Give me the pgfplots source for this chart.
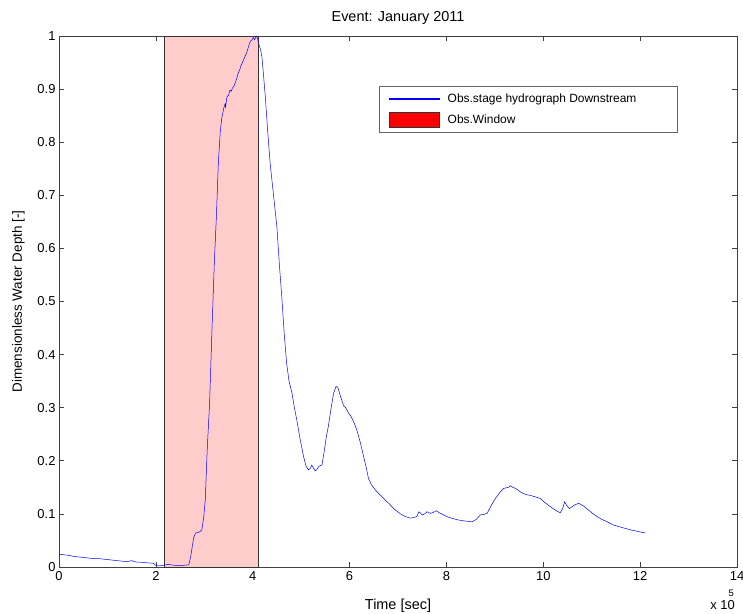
\documentclass[border=0pt]{standalone}
\usepackage{pgfplots}
\pgfplotsset{compat=1.18}
\usepackage{fontspec}
\setmainfont{Liberation Sans}
\begin{document}
\begin{tikzpicture}
\begin{axis}[
  name=ax,
  scale only axis,
  clip=false,
  width=678bp, height=531bp,
  xmin=0, xmax=14, ymin=0, ymax=1,
  xtick={0,2,...,14}, ytick={0,0.1,...,1},
  yticklabels={0,0.1,0.2,0.3,0.4,0.5,0.6,0.7,0.8,0.9,1},
  xticklabels={0,2,4,6,8,10,12,14},
  /pgf/number format/assume math mode=true,
  tick align=inside,
  major tick length=5bp,
  axis line style={black!75, line width=0.6pt},
  tick style={black!75, line width=0.6pt},
  every tick label/.append style={font=\fontsize{13}{15}\selectfont},
  xticklabel style={yshift=-1bp},
  title={Event: January 2011},
  title style={font=\fontsize{14.5}{16}\selectfont, yshift=2bp},
  xlabel={Time [sec]},
  ylabel={Dimensionless Water Depth [-]},
  xlabel style={font=\fontsize{14.5}{16}\selectfont, yshift=-12bp},
  ylabel style={font=\fontsize{13.5}{16}\selectfont, yshift=6bp},
  legend style={at={(rel axis cs:0.472,0.905)}, anchor=north west,
    draw=black!60, font=\fontsize{12}{14}\selectfont,
    row sep=6bp, inner xsep=10bp, inner ysep=5bp, cells={anchor=west}},
  legend cell align=left,
]
\addplot[fill=red!20, draw=black!80, line width=0.6pt, forget plot] coordinates {(2.17,0)(2.17,1)(4.11,1)(4.11,0)} -- cycle;
\addplot[blue, line width=0.5pt, legend image code/.code={\fill[fill=blue] (0bp,-0.2bp) rectangle (50bp,0.2bp);}] coordinates {
(0,0.024)(0.1,0.023)(0.2,0.022)(0.3,0.020)(0.4,0.019)(0.5,0.018)(0.6,0.017)(0.7,0.016)(0.8,0.016)(0.9,0.015)(1.0,0.014)(1.1,0.013)(1.2,0.012)(1.3,0.011)(1.4,0.010)(1.5,0.012)(1.6,0.009)(1.7,0.009)(1.8,0.008)(1.95,0.007)(2.0,0.003)(2.05,0.002)(2.15,0.003)(2.25,0.005)(2.4,0.003)(2.55,0.003)(2.68,0.004)(2.72,0.02)(2.78,0.055)(2.82,0.064)(2.9,0.066)(2.95,0.07)(2.99,0.095)(3.02,0.126)(3.06,0.22)(3.11,0.31)(3.16,0.45)(3.21,0.58)(3.25,0.66)(3.29,0.76)(3.33,0.82)(3.36,0.845)(3.41,0.867)(3.43,0.872)(3.44,0.866)(3.46,0.881)(3.47,0.886)(3.50,0.888)(3.53,0.898)(3.56,0.896)(3.58,0.902)(3.61,0.905)(3.64,0.912)(3.67,0.920)(3.70,0.93)(3.73,0.936)(3.76,0.945)(3.78,0.948)(3.81,0.955)(3.85,0.963)(3.88,0.97)(3.92,0.982)(3.95,0.99)(3.98,0.992)(4.01,0.997)(4.04,0.993)(4.07,1.0)(4.10,0.996)(4.12,0.986)(4.16,0.975)(4.19,0.961)(4.22,0.93)(4.26,0.886)(4.31,0.82)(4.36,0.76)(4.43,0.70)(4.50,0.64)(4.55,0.57)(4.60,0.509)(4.65,0.44)(4.70,0.384)(4.75,0.35)(4.81,0.328)(4.86,0.30)(4.91,0.277)(4.98,0.24)(5.05,0.208)(5.10,0.19)(5.15,0.183)(5.19,0.186)(5.22,0.192)(5.26,0.185)(5.29,0.181)(5.32,0.183)(5.37,0.19)(5.43,0.192)(5.48,0.22)(5.52,0.245)(5.56,0.264)(5.62,0.30)(5.67,0.327)(5.72,0.34)(5.76,0.338)(5.80,0.325)(5.84,0.314)(5.88,0.303)(5.92,0.30)(5.95,0.295)(5.98,0.29)(6.04,0.282)(6.10,0.27)(6.15,0.258)(6.22,0.235)(6.29,0.208)(6.35,0.185)(6.39,0.167)(6.45,0.155)(6.55,0.143)(6.63,0.136)(6.75,0.125)(6.83,0.118)(6.91,0.11)(6.98,0.105)(7.05,0.1)(7.15,0.095)(7.25,0.092)(7.32,0.093)(7.39,0.095)(7.43,0.104)(7.46,0.102)(7.50,0.098)(7.55,0.1)(7.60,0.104)(7.67,0.101)(7.73,0.103)(7.80,0.106)(7.85,0.102)(7.90,0.1)(8.01,0.095)(8.1,0.092)(8.22,0.089)(8.35,0.087)(8.45,0.086)(8.53,0.085)(8.62,0.09)(8.70,0.098)(8.77,0.099)(8.84,0.101)(8.92,0.115)(9.01,0.129)(9.1,0.14)(9.18,0.148)(9.28,0.15)(9.32,0.153)(9.35,0.151)(9.40,0.149)(9.46,0.146)(9.55,0.14)(9.60,0.138)(9.66,0.136)(9.73,0.135)(9.8,0.133)(9.87,0.131)(9.94,0.129)(10.05,0.12)(10.14,0.114)(10.25,0.107)(10.35,0.102)(10.4,0.11)(10.44,0.123)(10.49,0.115)(10.54,0.11)(10.63,0.116)(10.73,0.12)(10.83,0.115)(10.95,0.106)(11.03,0.100)(11.11,0.095)(11.2,0.09)(11.3,0.086)(11.45,0.079)(11.6,0.075)(11.8,0.07)(11.95,0.067)(12.05,0.065)(12.11,0.064)
};
\addlegendentry{\rule{6bp}{0pt}Obs.stage hydrograph Downstream\rule{29bp}{0pt}}
\addlegendimage{legend image code/.code={\draw[fill=red, draw=black!80] (0bp,-7.5bp) rectangle (50bp,7.5bp);}}
\addlegendentry{\rule{6bp}{0pt}Obs.Window}
\end{axis}
\node[anchor=base east, font=\fontsize{13}{15}\selectfont, inner sep=0pt] at ([xshift=-2bp,yshift=-42bp]ax.south east) {x 10};
\node[anchor=base east, font=\fontsize{9.5}{11}\selectfont, inner sep=0pt] at ([xshift=-3bp,yshift=-29bp]ax.south east) {5};
\pgfresetboundingbox
\path ([xshift=-59bp,yshift=-47bp]ax.south west) rectangle ([xshift=6bp,yshift=36bp]ax.north east);
\end{tikzpicture}
\end{document}
